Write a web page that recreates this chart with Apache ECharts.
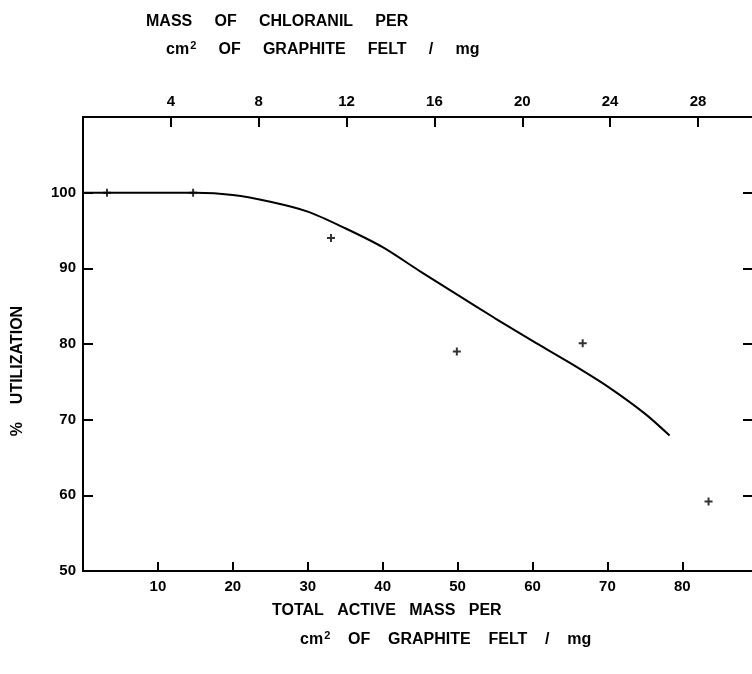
<!DOCTYPE html>
<html lang="en">
<head>
    <meta charset="UTF-8">
    <title>Utilization</title>
    <script src="https://cdn.jsdelivr.net/npm/echarts@6/dist/echarts.min.js"></script>
    <style>
        body{margin:0;background:#fff;}
        #chart{width:752px;height:674px;}
    </style>
</head>
<body>
<div id="chart"></div>
<script>
    // measured points (total active mass / mg per cm2, % utilization)
    var pointX=[3.2,14.7,33.1,49.9,66.7,83.5];
    var pointY=[100,100,94.0,79.0,80.1,59.2];
    // hand drawn fitted curve, read every 5 mg
    var curveX=[0,5,10,15,20,25,30,35,40,45,50,55,60,65,70,75,78.3];
    var curveY=[100,100,100,100,99.7,98.8,97.5,95.3,92.8,89.6,86.5,83.4,80.4,77.5,74.4,70.8,67.9];
    var bottomTicks=[10,20,30,40,50,60,70,80];
    var topTicks=[4,8,12,16,20,24,28];
    var leftTicks=[50,60,70,80,90,100];

    var font='"Liberation Sans", Arial, sans-serif';
    var points=[];
    for(var i=0;i<pointX.length;i++){
        points.push([pointX[i],pointY[i]]);
    }
    var curve=[];
    for(var k=0;k<curveX.length;k++){
        curve.push([curveX[k],curveY[k]]);
    }

    var numLabel={color:'#000',fontFamily:font,fontSize:15,fontWeight:'bold'};
    var axisLine={onZero:false,lineStyle:{color:'#000',width:2}};

    // spread out typed labels: words joined by n spaces
    function label(list,n,left,top){
        return {type:'text',left:left,top:top,style:{
            text:list.join(new Array(n+1).join(' ')),fill:'#000',font:'bold 16px '+font,
            rich:{s:{fill:'#000',font:'bold 11px '+font,verticalAlign:'bottom',padding:[0,0,9,1]}}
        }};
    }
    var graphics=[
        label(['MASS','OF','CHLORANIL','PER'],5,146,14),
        label(['cm{s|2}','OF','GRAPHITE','FELT','/','mg'],5,166,40),
        label(['TOTAL','ACTIVE','MASS','PER'],3,272,603),
        label(['cm{s|2}','OF','GRAPHITE','FELT','/','mg'],4,300,630),
        {type:'text',x:18,y:371,rotation:Math.PI/2,style:{
            text:'%    UTILIZATION',align:'center',verticalAlign:'middle',
            fill:'#000',font:'bold 16px '+font
        }}
    ];

    var option={
        animation:false,
        backgroundColor:'#fff',
        grid:{left:83,top:117,right:0,bottom:103},
        xAxis:[{
            type:'value',position:'bottom',min:0,max:89.3,interval:10,
            splitLine:{show:false},
            axisLine:axisLine,
            axisTick:{inside:true,length:9,lineStyle:{color:'#000',width:2}},
            axisLabel:Object.assign({margin:8,showMinLabel:false,showMaxLabel:false,
                formatter:function(v){return bottomTicks.indexOf(v)>=0?v:'';}},numLabel)
        },{
            type:'value',position:'top',min:0,max:30.46,interval:4,
            splitLine:{show:false},
            axisLine:axisLine,
            axisTick:{inside:true,length:10,lineStyle:{color:'#000',width:2}},
            axisLabel:Object.assign({margin:8,showMinLabel:false,showMaxLabel:false,
                formatter:function(v){return topTicks.indexOf(v)>=0?v:'';}},numLabel)
        }],
        yAxis:[{
            type:'value',position:'left',min:50,max:110,interval:10,
            splitLine:{show:false},
            axisLine:axisLine,
            axisTick:{inside:true,length:10,lineStyle:{color:'#000',width:2}},
            axisLabel:Object.assign({margin:7,showMaxLabel:false,
                formatter:function(v){return leftTicks.indexOf(v)>=0?v:'';}},numLabel)
        },{
            type:'value',position:'right',min:50,max:110,interval:10,
            splitLine:{show:false},
            axisLine:{show:false,onZero:false},
            axisTick:{show:true,inside:true,length:9,lineStyle:{color:'#000',width:2}},
            axisLabel:{show:false}
        }],
        graphic:graphics,
        series:[{
            type:'line',
            data:curve,
            smooth:0.3,
            showSymbol:false,
            lineStyle:{color:'#000',width:2}
        },{
            type:'scatter',
            data:points,
            symbol:'path://M3,0H5V3H8V5H5V8H3V5H0V3H3Z',
            symbolSize:8,
            itemStyle:{color:'#000'}
        }]
    };
    var chart=echarts.init(document.getElementById('chart'));
    chart.setOption(option);
</script>
</body>
</html>
